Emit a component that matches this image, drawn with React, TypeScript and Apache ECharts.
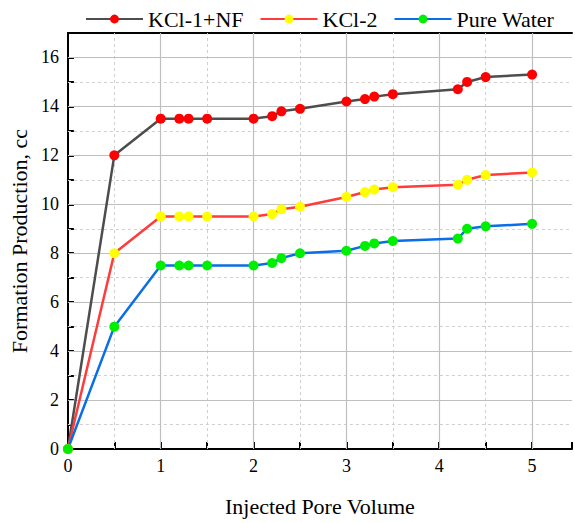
import React, { useEffect, useRef } from "react";
import * as echarts from "echarts";

const pvKcl1 = [0, 0.5, 1, 1.2, 1.3, 1.5, 2, 2.2, 2.3, 2.5, 3, 3.2, 3.3, 3.5, 4.2, 4.3, 4.5, 5];
const kcl1NF = [0, 12, 13.5, 13.5, 13.5, 13.5, 13.5, 13.6, 13.8, 13.9, 14.2, 14.3, 14.4, 14.5, 14.7, 15.0, 15.2, 15.3];
const kcl2 = [0, 8, 9.5, 9.5, 9.5, 9.5, 9.5, 9.6, 9.8, 9.9, 10.3, 10.5, 10.6, 10.7, 10.8, 11.0, 11.2, 11.3];
const pureWater = [0, 5, 7.5, 7.5, 7.5, 7.5, 7.5, 7.6, 7.8, 8.0, 8.1, 8.3, 8.4, 8.5, 8.6, 9.0, 9.1, 9.2];
const seriesNames = ["KCl-1+NF", "KCl-2", "Pure Water"];
const xTitle = "Injected Pore Volume";
const yTitle = "Formation Production, cc";
const majorXGrid = [1, 2, 3, 4, 5];
const majorYGrid = [2, 4, 6, 8, 10, 12, 14, 16];
const minorXGrid = [0.5, 1.5, 2.5, 3.5, 4.5];
const minorYGrid = [1, 3, 5, 7, 9, 11, 13, 15];

const FONT = "Liberation Serif";

export default function App() {
  const ref = useRef<HTMLDivElement>(null);
  useEffect(() => {
    const chart = echarts.init(ref.current!, null, { renderer: "svg" });
    const mk = (name: string, ys: number[], line: string, dot: string, extra: any = {}) => ({
      name,
      type: "line",
      xAxisIndex: 0,
      yAxisIndex: 0,
      data: pvKcl1.map((x, i) => [x, ys[i]]),
      symbol: "circle",
      symbolSize: 10,
      lineStyle: { color: line, width: 2.5 },
      itemStyle: { color: dot, borderWidth: 0 },
      z: 5,
      ...extra,
    });
    const gridLines = (xs: number[], ys: number[], style: any) => ({
      silent: true,
      symbol: "none",
      z: 1,
      animation: false,
      label: { show: false },
      emphasis: { disabled: true },
      lineStyle: style,
      data: [...xs.map((v) => ({ xAxis: v })), ...ys.map((v) => ({ yAxis: v }))],
    });
    chart.setOption({
      animation: false,
      textStyle: { fontFamily: FONT },
      legend: {
        top: 3,
        left: 80,
        itemWidth: 57,
        itemHeight: 11,
        itemGap: 16,
        textStyle: { fontFamily: FONT, fontSize: 22, color: "#000" },
        data: seriesNames,
      },
      grid: { left: 67, top: 33, right: 0, bottom: 74, containLabel: false },
      xAxis: [
        {
          type: "value",
          min: 0,
          max: 5.43,
          interval: 0.5,
          position: "bottom",
          name: xTitle,
          nameLocation: "middle",
          nameGap: 46,
          nameTextStyle: { fontFamily: FONT, fontSize: 22, color: "#000" },
          axisLine: { show: true, onZero: false, lineStyle: { color: "#000", width: 2 } },
          axisTick: { show: true, inside: true, length: 7, lineStyle: { color: "#000", width: 2 } },
          axisLabel: {
            fontFamily: FONT,
            fontSize: 18,
            color: "#000",
            margin: 8,
            formatter: (v: number) => (Number.isInteger(v) ? String(v) : ""),
          },
          splitLine: { show: false },
        },
        {
          type: "value",
          min: 0,
          max: 5.43,
          interval: 1,
          position: "top",
          axisLine: { show: true, onZero: false, lineStyle: { color: "#000", width: 2 } },
          axisTick: { show: false },
          axisLabel: { show: false },
          splitLine: { show: false },
        },
      ],
      yAxis: [
        {
          type: "value",
          min: 0,
          max: 17,
          interval: 1,
          name: yTitle,
          nameLocation: "middle",
          nameGap: 36,
          nameTextStyle: { fontFamily: FONT, fontSize: 22, color: "#000" },
          axisLine: { show: true, onZero: false, lineStyle: { color: "#000", width: 2 } },
          axisTick: { show: true, inside: true, length: 6, lineStyle: { color: "#000", width: 2 } },
          axisLabel: {
            fontFamily: FONT,
            fontSize: 18,
            color: "#000",
            margin: 9,
            formatter: (v: number) => (v % 2 === 0 && v <= 16 ? String(v) : ""),
          },
          splitLine: { show: false },
        },
      ],
      series: [
        mk(seriesNames[0], kcl1NF, "#4d4d4d", "#ff0000", {
          markLine: gridLines(minorXGrid, minorYGrid, { color: "#cfcfcf", width: 1, type: [3, 3] }),
        }),
        mk(seriesNames[1], kcl2, "#ff3b3b", "#ffff00", {
          markLine: gridLines(majorXGrid, majorYGrid, { color: "#bfbfbf", width: 1.2, type: "solid" }),
        }),
        mk(seriesNames[2], pureWater, "#0a6ee6", "#00ee00"),
      ],
    });
    return () => chart.dispose();
  }, []);
  return <div ref={ref} style={{ width: 575, height: 523, position: "absolute", left: 0, top: 0 }} />;
}
